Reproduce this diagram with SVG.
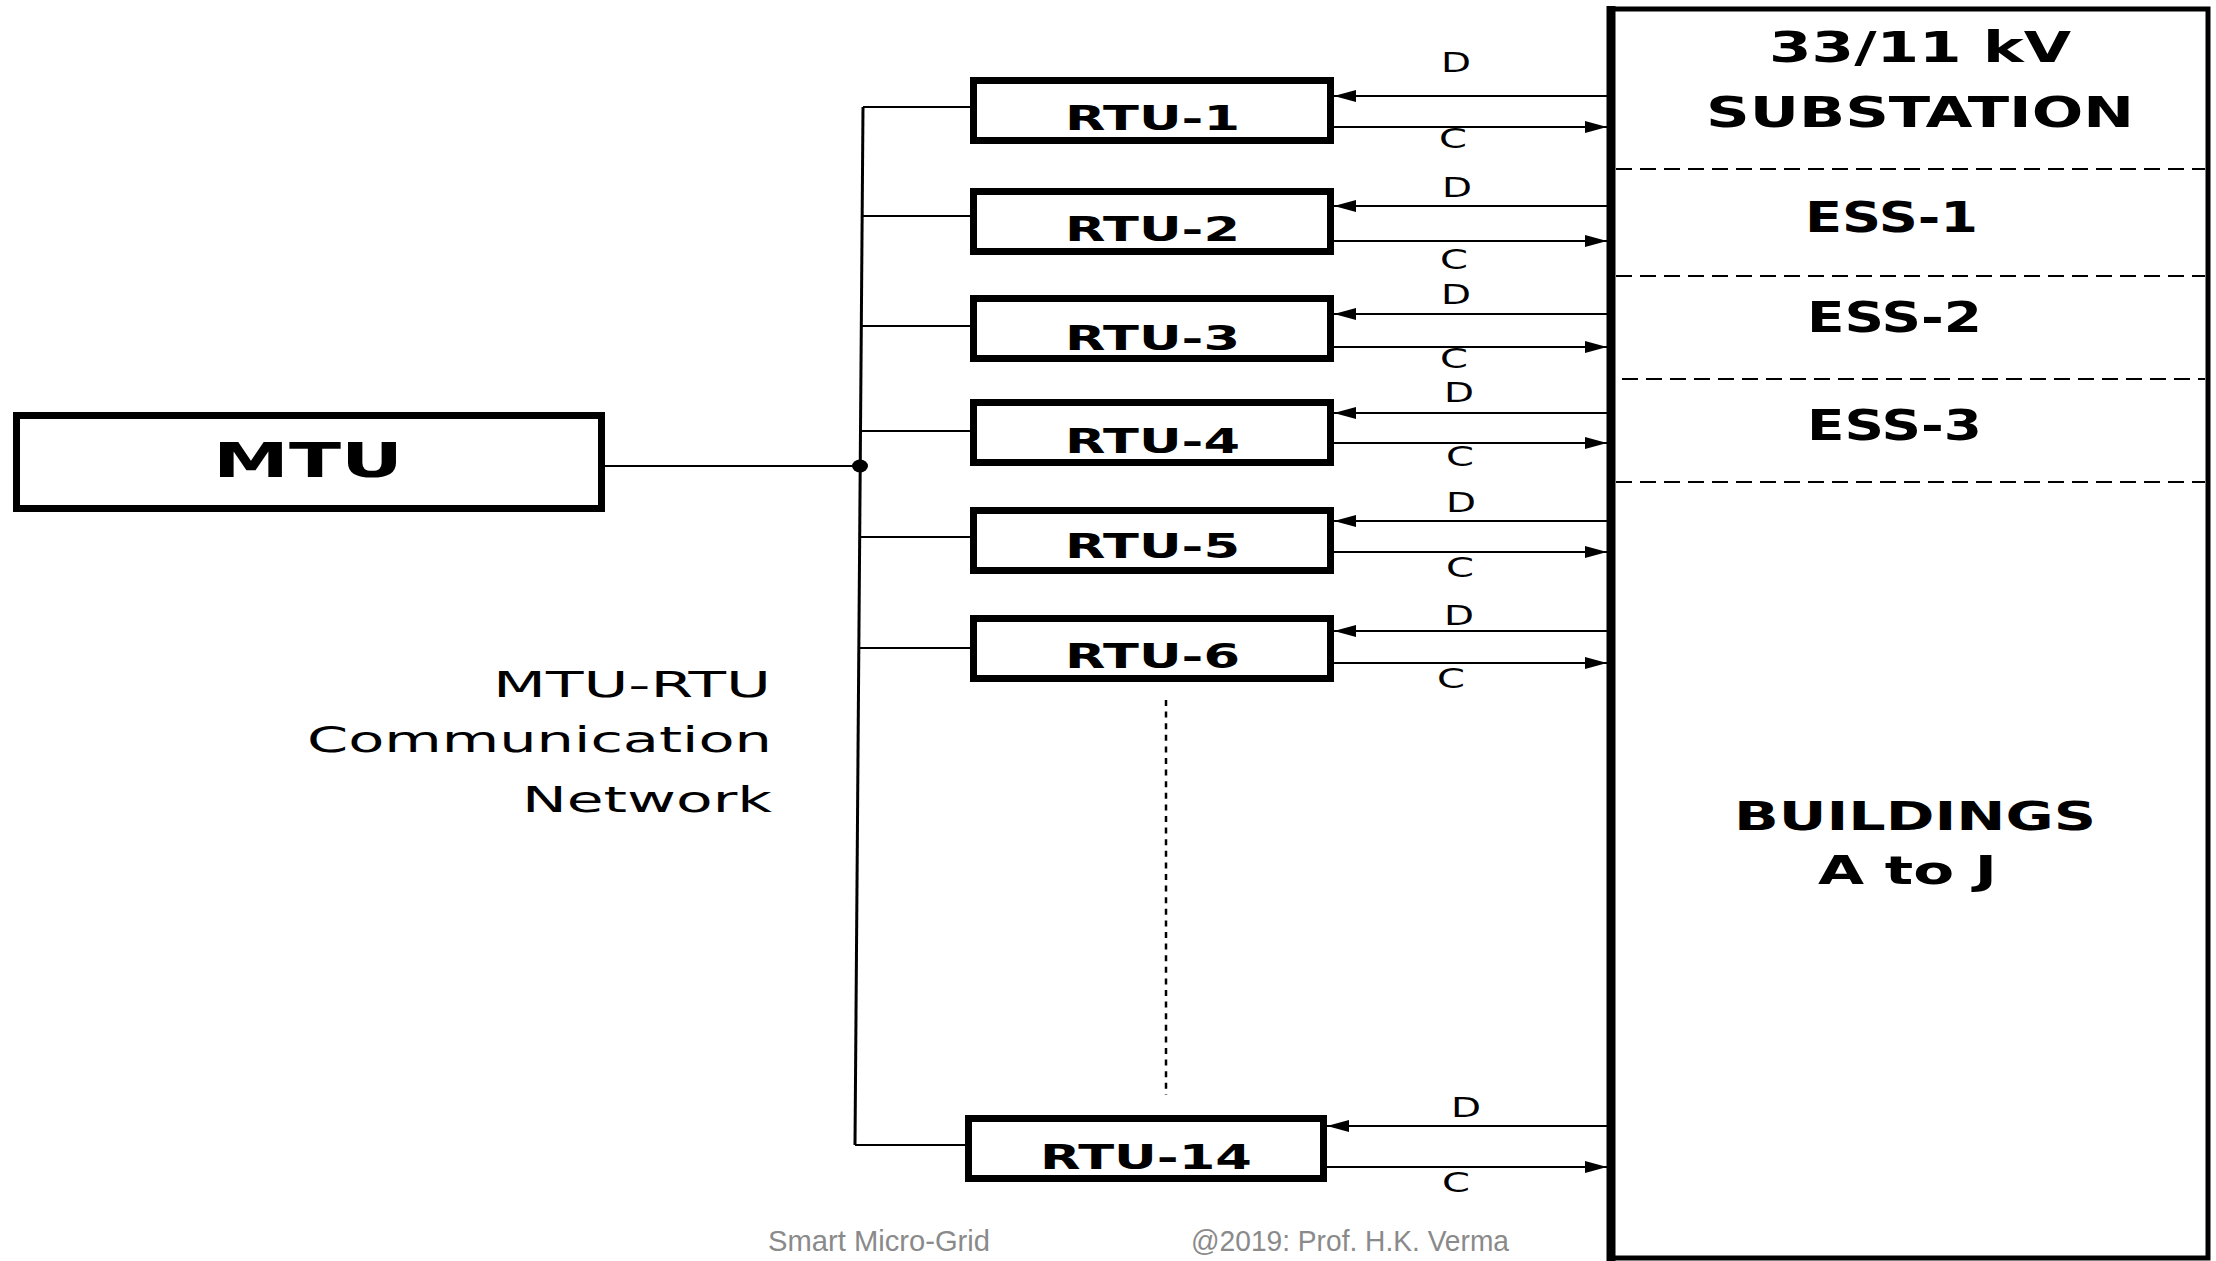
<svg xmlns="http://www.w3.org/2000/svg" width="2216" height="1261" viewBox="0 0 2216 1261">
<defs>
<style>
.box{fill:#fff;stroke:#000;stroke-width:7}
.lbl{font-family:"DejaVu Sans",Verdana,sans-serif;font-weight:bold;fill:#000}
.net{font-family:"DejaVu Sans",Verdana,sans-serif;font-size:35px;fill:#000}
.dc{font-family:"DejaVu Sans",Verdana,sans-serif;font-size:27px;fill:#000}
.foot{font-family:"Liberation Sans",Arial,sans-serif;font-size:29px;fill:#8a8a8a}
.wire{stroke:#000;stroke-width:2;fill:none}
.arr{stroke:#000;stroke-width:2;fill:none;marker-end:url(#ah)}
.sep{stroke:#000;stroke-width:2;stroke-dasharray:16 8}
</style>
<marker id="ah" markerUnits="userSpaceOnUse" markerWidth="22" markerHeight="12" refX="22" refY="6" orient="auto">
<path d="M0,0 L22,6 L0,12 z" fill="#000"/>
</marker>
</defs>
<rect width="2216" height="1261" fill="#fff"/>

<g id="main-box">
<rect x="1611" y="9" width="597" height="1249" fill="#fff" stroke="#000" stroke-width="5"/>
<line x1="1611" y1="6" x2="1611" y2="1261" stroke="#000" stroke-width="9"/>
<line class="sep" x1="1616" y1="169" x2="2205" y2="169"/>
<line class="sep" x1="1616" y1="276" x2="2205" y2="276"/>
<line class="sep" x1="1622" y1="379" x2="2205" y2="379"/>
<line class="sep" x1="1616" y1="482" x2="2205" y2="482"/>
<text class="lbl" font-size="42" x="1769" y="62" textLength="302" lengthAdjust="spacingAndGlyphs">33/11 kV</text>
<text class="lbl" font-size="42" x="1706" y="127" textLength="428" lengthAdjust="spacingAndGlyphs">SUBSTATION</text>
<text class="lbl" font-size="42" x="1805" y="232" textLength="173" lengthAdjust="spacingAndGlyphs">ESS-1</text>
<text class="lbl" font-size="42" x="1807" y="332" textLength="175" lengthAdjust="spacingAndGlyphs">ESS-2</text>
<text class="lbl" font-size="42" x="1807" y="440" textLength="175" lengthAdjust="spacingAndGlyphs">ESS-3</text>
<text class="lbl" font-size="39" x="1734" y="830" textLength="362" lengthAdjust="spacingAndGlyphs">BUILDINGS</text>
<text class="lbl" font-size="39" x="1818" y="884" textLength="179" lengthAdjust="spacingAndGlyphs">A to J</text>
</g>

<g id="mtu">
<rect class="box" x="16.5" y="415.5" width="585" height="93"/>
<text class="lbl" font-size="48" x="213" y="477" textLength="190" lengthAdjust="spacingAndGlyphs">MTU</text>
</g>

<g id="rtu-1">
<rect class="box" x="973.5" y="80.5" width="357" height="60"/>
<text class="lbl" font-size="34" x="1065" y="130" textLength="175" lengthAdjust="spacingAndGlyphs">RTU-1</text>
</g>
<g id="rtu-2">
<rect class="box" x="973.5" y="191.5" width="357" height="60"/>
<text class="lbl" font-size="34" x="1065" y="241" textLength="175" lengthAdjust="spacingAndGlyphs">RTU-2</text>
</g>
<g id="rtu-3">
<rect class="box" x="973.5" y="298.5" width="357" height="60"/>
<text class="lbl" font-size="34" x="1065" y="350" textLength="175" lengthAdjust="spacingAndGlyphs">RTU-3</text>
</g>
<g id="rtu-4">
<rect class="box" x="973.5" y="402.5" width="357" height="60"/>
<text class="lbl" font-size="34" x="1065" y="453" textLength="175" lengthAdjust="spacingAndGlyphs">RTU-4</text>
</g>
<g id="rtu-5">
<rect class="box" x="973.5" y="510.5" width="357" height="60"/>
<text class="lbl" font-size="34" x="1065" y="558" textLength="175" lengthAdjust="spacingAndGlyphs">RTU-5</text>
</g>
<g id="rtu-6">
<rect class="box" x="973.5" y="618.5" width="357" height="60"/>
<text class="lbl" font-size="34" x="1065" y="668" textLength="175" lengthAdjust="spacingAndGlyphs">RTU-6</text>
</g>
<g id="rtu-14">
<rect class="box" x="968.5" y="1118.5" width="355" height="60"/>
<text class="lbl" font-size="34" x="1040" y="1169" textLength="212" lengthAdjust="spacingAndGlyphs">RTU-14</text>
</g>

<g id="network-label">
<text class="net" x="493" y="697" textLength="278" lengthAdjust="spacingAndGlyphs">MTU-RTU</text>
<text class="net" x="307" y="752" textLength="465" lengthAdjust="spacingAndGlyphs">Communication</text>
<text class="net" x="522" y="812" textLength="250" lengthAdjust="spacingAndGlyphs">Network</text>
</g>

<g id="connectors">
<line x1="863" y1="107" x2="855" y2="1145" stroke="#000" stroke-width="3"/>
<line class="wire" x1="863" y1="107" x2="970" y2="107"/>
<line class="wire" x1="862" y1="216" x2="970" y2="216"/>
<line class="wire" x1="861" y1="326" x2="970" y2="326"/>
<line class="wire" x1="861" y1="431" x2="970" y2="431"/>
<line class="wire" x1="860" y1="537" x2="970" y2="537"/>
<line class="wire" x1="859" y1="648" x2="970" y2="648"/>
<line class="wire" x1="855" y1="1145" x2="965" y2="1145"/>
<line class="wire" x1="603" y1="466" x2="860" y2="466"/>
<ellipse cx="860" cy="466" rx="8" ry="6.5" fill="#000"/>
<line x1="1166" y1="700" x2="1166" y2="1095" stroke="#000" stroke-width="2.5" stroke-dasharray="6 5.6"/>

<line class="arr" x1="1607" y1="96" x2="1334" y2="96"/>
<line class="arr" x1="1334" y1="127" x2="1607" y2="127"/>
<line class="arr" x1="1607" y1="206" x2="1334" y2="206"/>
<line class="arr" x1="1334" y1="241" x2="1607" y2="241"/>
<line class="arr" x1="1607" y1="314" x2="1334" y2="314"/>
<line class="arr" x1="1334" y1="347" x2="1607" y2="347"/>
<line class="arr" x1="1607" y1="413" x2="1334" y2="413"/>
<line class="arr" x1="1334" y1="443" x2="1607" y2="443"/>
<line class="arr" x1="1607" y1="521" x2="1334" y2="521"/>
<line class="arr" x1="1334" y1="552" x2="1607" y2="552"/>
<line class="arr" x1="1607" y1="631" x2="1334" y2="631"/>
<line class="arr" x1="1334" y1="663" x2="1607" y2="663"/>
<line class="arr" x1="1607" y1="1126" x2="1327" y2="1126"/>
<line class="arr" x1="1327" y1="1167" x2="1607" y2="1167"/>

<text class="dc" x="1441" y="72" textLength="30" lengthAdjust="spacingAndGlyphs">D</text>
<text class="dc" x="1439" y="148" textLength="28" lengthAdjust="spacingAndGlyphs">C</text>
<text class="dc" x="1442" y="197" textLength="30" lengthAdjust="spacingAndGlyphs">D</text>
<text class="dc" x="1440" y="269" textLength="28" lengthAdjust="spacingAndGlyphs">C</text>
<text class="dc" x="1441" y="304" textLength="30" lengthAdjust="spacingAndGlyphs">D</text>
<text class="dc" x="1440" y="368" textLength="28" lengthAdjust="spacingAndGlyphs">C</text>
<text class="dc" x="1444" y="402" textLength="30" lengthAdjust="spacingAndGlyphs">D</text>
<text class="dc" x="1446" y="466" textLength="28" lengthAdjust="spacingAndGlyphs">C</text>
<text class="dc" x="1446" y="512" textLength="30" lengthAdjust="spacingAndGlyphs">D</text>
<text class="dc" x="1446" y="577" textLength="28" lengthAdjust="spacingAndGlyphs">C</text>
<text class="dc" x="1444" y="625" textLength="30" lengthAdjust="spacingAndGlyphs">D</text>
<text class="dc" x="1437" y="688" textLength="28" lengthAdjust="spacingAndGlyphs">C</text>
<text class="dc" x="1451" y="1117" textLength="30" lengthAdjust="spacingAndGlyphs">D</text>
<text class="dc" x="1442" y="1192" textLength="28" lengthAdjust="spacingAndGlyphs">C</text>
</g>

<g id="footer">
<text class="foot" x="768" y="1251" textLength="222" lengthAdjust="spacingAndGlyphs">Smart Micro-Grid</text>
<text class="foot" x="1191" y="1251" textLength="318" lengthAdjust="spacingAndGlyphs">@2019: Prof. H.K. Verma</text>
</g>
</svg>
